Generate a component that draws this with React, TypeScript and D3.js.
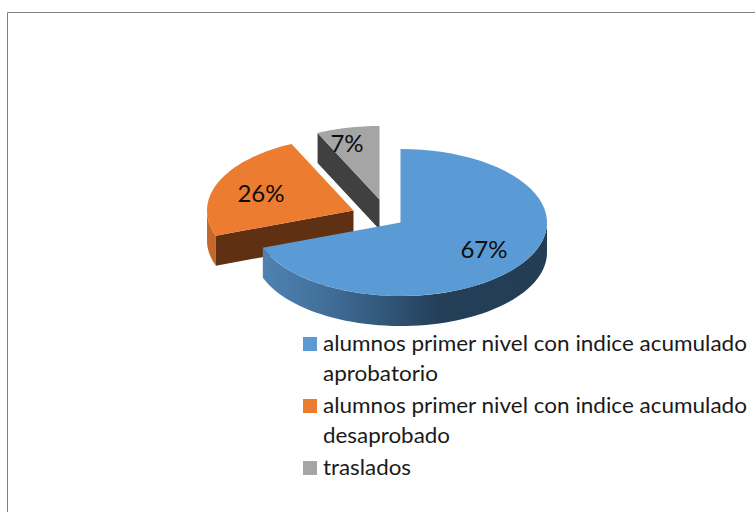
import React from "react";
import * as d3 from "d3";

const categories = ["aprobatorio", "desaprobado", "traslados"];
const values = [67, 26, 7];
const topColors = ["#5b9bd5", "#ec7c30", "#a5a5a5"];
const cutColors = ["#3a6a96", "#5f3112", "#404040"];
const wallColors = ["#3f6d99", "#c5672b", "#6f6f6f"];
const offsets: [number, number][] = [[0, 0], [-47, -12], [-21, -23]];
const legendLines = [
  { text: "alumnos primer nivel con indice acumulado", swatch: 0 },
  { text: "aprobatorio", swatch: -1 },
  { text: "alumnos primer nivel con indice acumulado", swatch: 1 },
  { text: "desaprobado", swatch: -1 },
  { text: "traslados", swatch: 2 },
];
const legendBaselines = [351, 381, 413, 443, 475];
const legendWidths = [424, 115, 424, 127, 88];
const labelPositions: [number, number][] = [[484, 258], [261, 202], [347, 152]];

const cx = 400.5, cy = 222.5, rx = 146.5, ry = 73.5, depth = 30;
// Excel's 3D projection shifts apparent angles, so shares go through a warped angular scale.
const angleScale = d3.scaleLinear().domain([0, 0.67, 0.93, 1]).range([0, 250, 335, 360].map((d) => (d * Math.PI) / 180));

const pt = (a: number, ox: number, oy: number, dz = 0): [number, number] => [
  cx + ox + rx * Math.sin(a),
  cy + oy - ry * Math.cos(a) + dz,
];

function arcPath(a0: number, a1: number, ox: number, oy: number, dz = 0) {
  const n = 60;
  return d3.range(n + 1).map((i) => pt(a0 + ((a1 - a0) * i) / n, ox, oy, dz));
}
const line = d3.line();

export default function App() {
  const total = d3.sum(values);
  const cum = d3.cumsum(values).map((d) => d / total);
  const slices = values.map((v, i) => {
    const a0 = angleScale(i === 0 ? 0 : cum[i - 1]);
    const a1 = angleScale(cum[i]);
    const [ox, oy] = offsets[i];
    return { v, i, a0, a1, ox, oy };
  });
  const order = [2, 1, 0];
  return (
    <svg width={755} height={512} style={{ position: "absolute", left: 0, top: 0, fontFamily: "Lato, sans-serif" }}>
      <defs>
        <linearGradient id="blueWall" gradientUnits="userSpaceOnUse" x1={263} x2={547} y1={0} y2={0}>
          <stop offset="0" stopColor="#4f82b2" />
          <stop offset="0.2" stopColor="#43719c" />
          <stop offset="0.4" stopColor="#345a7e" />
          <stop offset="0.62" stopColor="#243f58" />
          <stop offset="1" stopColor="#233d54" />
        </linearGradient>
      </defs>
      <rect width={755} height={512} fill="#ffffff" />
      <path d="M7.5 512V12.5H755" fill="none" stroke="#808080" strokeWidth={1} />
      {order.map((k) => {
        const s = slices[k];
        const apex: [number, number] = [cx + s.ox, cy + s.oy];
        const apexLow: [number, number] = [apex[0], apex[1] + depth];
        const top = arcPath(s.a0, s.a1, s.ox, s.oy);
        const startCorner = top[0];
        const lowerFrom = Math.max(s.a0, Math.PI / 2);
        const lowerTo = Math.min(s.a1, (3 * Math.PI) / 2);
        const hasWall = lowerTo > lowerFrom;
        const wallTop = hasWall ? arcPath(lowerFrom, lowerTo, s.ox, s.oy) : [];
        const wallBottom = hasWall ? arcPath(lowerFrom, lowerTo, s.ox, s.oy, depth).reverse() : [];
        return (
          <g key={k}>
            {hasWall && (
              <path
                d={line([...wallTop, ...wallBottom])! + "Z"}
                fill={k === 0 ? "url(#blueWall)" : wallColors[k]}
              />
            )}
            {k !== 0 && (
              <path
                d={line([apex, startCorner, [startCorner[0], startCorner[1] + depth], apexLow])! + "Z"}
                fill={cutColors[k]}
              />
            )}
            <path d={line([apex, ...top])! + "Z"} fill={topColors[k]} />
          </g>
        );
      })}
      {values.map((v, i) => (
        <text key={i} x={labelPositions[i][0]} y={labelPositions[i][1]} textAnchor="middle" fontSize={24} fill="#0d0d0d">
          {v}%
        </text>
      ))}
      {legendLines.map((l, i) => (
        <g key={i}>
          {l.swatch >= 0 && (
            <rect x={303} y={legendBaselines[i] - 14} width={14} height={14} fill={topColors[l.swatch]} />
          )}
          <text
            x={323}
            y={legendBaselines[i]}
            fontSize={22}
            fill="#1a1a1a"
            textLength={legendWidths[i]}
            lengthAdjust="spacingAndGlyphs"
          >
            {l.text}
          </text>
        </g>
      ))}
    </svg>
  );
}
